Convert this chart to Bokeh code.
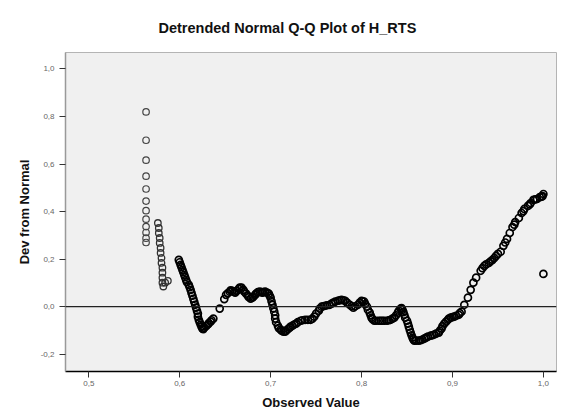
from bokeh.plotting import figure
from bokeh.models import FixedTicker, Span, Range1d
from bokeh.embed import file_html
from bokeh.resources import INLINE

# ---- data: observed value vs deviation from normal ----
obs_col1 = [0.563] * 12
dev_col1 = [0.819, 0.700, 0.616, 0.549, 0.495, 0.444, 0.404, 0.368, 0.337, 0.312, 0.288, 0.270]

obs_col2 = [0.576, 0.577, 0.577, 0.578, 0.578, 0.579, 0.579, 0.580, 0.580, 0.581, 0.581, 0.581,
            0.581, 0.582, 0.584, 0.587]
dev_col2 = [0.352, 0.331, 0.310, 0.289, 0.268, 0.247, 0.226, 0.205, 0.184, 0.164, 0.143, 0.122,
            0.101, 0.085, 0.101, 0.109]

obs_main = [0.599, 0.601, 0.603, 0.605, 0.607, 0.610, 0.612, 0.614, 0.616, 0.618, 0.620, 0.621,
            0.623, 0.625, 0.627, 0.631, 0.634, 0.637, 0.644, 0.649,
            0.651, 0.655, 0.658, 0.661, 0.665, 0.668, 0.671, 0.675, 0.678, 0.681, 0.684, 0.688,
            0.691, 0.694, 0.698, 0.700, 0.702, 0.704, 0.705, 0.708, 0.711, 0.714, 0.717, 0.721,
            0.724, 0.728, 0.733, 0.738, 0.744, 0.748, 0.753, 0.756, 0.760, 0.765, 0.769, 0.774,
            0.778, 0.782, 0.787, 0.791, 0.796, 0.800, 0.803, 0.806, 0.809, 0.811, 0.814, 0.819,
            0.823, 0.828, 0.832, 0.836, 0.840, 0.843, 0.845, 0.847, 0.850, 0.852, 0.854, 0.856,
            0.858, 0.863, 0.867, 0.871, 0.876, 0.880, 0.885, 0.888, 0.891, 0.895, 0.898, 0.902,
            0.907, 0.910, 0.913, 0.917, 0.920, 0.923, 0.926, 0.931, 0.935, 0.940, 0.944, 0.948,
            0.953, 0.956, 0.960, 0.963, 0.966, 0.969, 0.973, 0.976, 0.979, 0.983, 0.986, 0.989,
            0.993, 0.996, 0.999, 1.000, 1.000]
dev_main = [0.197, 0.176, 0.155, 0.134, 0.113, 0.092, 0.071, 0.046, 0.021, -0.004, -0.029, -0.055,
            -0.075, -0.092, -0.088, -0.075, -0.063, -0.050, -0.008, 0.032,
            0.050, 0.063, 0.067, 0.059, 0.075, 0.080, 0.063, 0.046, 0.034, 0.042, 0.055, 0.063,
            0.059, 0.063, 0.055, 0.038, 0.008, -0.021, -0.050, -0.080, -0.096, -0.105, -0.101, -0.088,
            -0.080, -0.071, -0.059, -0.055, -0.055, -0.042, -0.017, 0.000, 0.004, 0.008, 0.017, 0.025,
            0.029, 0.025, 0.008, -0.004, 0.008, 0.025, 0.021, 0.000, -0.025, -0.046, -0.059, -0.059,
            -0.059, -0.059, -0.055, -0.046, -0.025, -0.008, -0.013, -0.034, -0.059, -0.084, -0.109, -0.130,
            -0.143, -0.143, -0.138, -0.130, -0.122, -0.117, -0.109, -0.092, -0.071, -0.055, -0.046, -0.042,
            -0.034, -0.021, 0.008, 0.038, 0.071, 0.101, 0.122, 0.151, 0.172, 0.184, 0.197, 0.214,
            0.231, 0.256, 0.285, 0.310, 0.335, 0.356, 0.373, 0.394, 0.411, 0.424, 0.436, 0.449,
            0.453, 0.461, 0.465, 0.474, 0.138]

# further readings where the points crowd together
obs_more = [0.600, 0.602, 0.604, 0.606, 0.608, 0.611, 0.613, 0.615, 0.617, 0.619, 0.620, 0.622,
            0.624, 0.626, 0.629, 0.632, 0.635,
            0.653, 0.656, 0.660, 0.663, 0.666, 0.670, 0.673, 0.676, 0.680, 0.683, 0.686, 0.690,
            0.692, 0.696, 0.699, 0.701, 0.703, 0.705, 0.706, 0.709, 0.712, 0.716, 0.719, 0.722,
            0.726, 0.730, 0.735, 0.741, 0.746, 0.750, 0.754, 0.758, 0.762, 0.767, 0.771, 0.776,
            0.780, 0.784, 0.789, 0.793, 0.798, 0.801, 0.804, 0.807, 0.810, 0.812, 0.816, 0.821,
            0.825, 0.830, 0.834, 0.838, 0.841, 0.844, 0.846, 0.848, 0.851, 0.853, 0.855, 0.857,
            0.860, 0.865, 0.869, 0.873, 0.878, 0.882, 0.886, 0.889, 0.893, 0.896, 0.900, 0.904,
            0.908, 0.933, 0.937, 0.942, 0.946, 0.950, 0.958, 0.968, 0.978, 0.985, 0.991, 0.998]
dev_more = [0.187, 0.166, 0.145, 0.124, 0.103, 0.082, 0.058, 0.033, 0.008, -0.017, -0.042, -0.065,
            -0.084, -0.094, -0.082, -0.069, -0.057,
            0.057, 0.069, 0.063, 0.067, 0.080, 0.071, 0.055, 0.040, 0.038, 0.050, 0.061, 0.061,
            0.061, 0.059, 0.046, 0.023, -0.006, -0.036, -0.065, -0.090, -0.101, -0.105, -0.094, -0.084,
            -0.075, -0.065, -0.057, -0.055, -0.050, -0.029, -0.008, 0.002, 0.006, 0.013, 0.021, 0.027,
            0.027, 0.017, 0.002, 0.002, 0.017, 0.023, 0.011, -0.013, -0.036, -0.052, -0.059, -0.059,
            -0.059, -0.057, -0.050, -0.036, -0.017, -0.006, -0.023, -0.046, -0.071, -0.097, -0.120, -0.138,
            -0.143, -0.141, -0.134, -0.126, -0.120, -0.113, -0.101, -0.082, -0.063, -0.050, -0.044, -0.038,
            -0.027, 0.162, 0.178, 0.191, 0.205, 0.222, 0.270, 0.345, 0.402, 0.430, 0.451, 0.463]

x_ticks = [0.5, 0.6, 0.7, 0.8, 0.9, 1.0]
x_tick_labels = ["0,5", "0,6", "0,7", "0,8", "0,9", "1,0"]
y_ticks = [1.0, 0.8, 0.6, 0.4, 0.2, 0.0, -0.2]
y_tick_labels = ["1,0", "0,8", "0,6", "0,4", "0,2", "0,0", "-0,2"]

FONT = "Liberation Sans"

p = figure(width=557, height=412, output_backend="svg", toolbar_location=None,
           x_range=Range1d(0.4744, 1.0144), y_range=Range1d(-0.2725, 1.069),
           min_border_left=65, min_border_right=1, min_border_top=52, min_border_bottom=40,
           title="Detrended Normal Q-Q Plot of H_RTS")

p.title.align = "left"
p.title.offset = 93
p.title.vertical_align = "top"
p.title.standoff = 30
p.title.text_font = FONT
p.title.text_font_size = "14.5px"
p.title.text_font_style = "bold"
p.title.text_color = "#111111"

p.background_fill_color = "#f0f0f0"
p.border_fill_color = "white"
p.outline_line_color = "#b4b4b4"
p.outline_line_width = 1
p.grid.visible = False

p.xaxis.ticker = FixedTicker(ticks=x_ticks)
p.xaxis.major_label_overrides = dict(zip(x_ticks, x_tick_labels))
p.yaxis.ticker = FixedTicker(ticks=y_ticks)
p.yaxis.major_label_overrides = dict(zip(y_ticks, y_tick_labels))

for ax in (p.xaxis[0], p.yaxis[0]):
    ax.minor_tick_line_color = None
    ax.major_tick_in = 0
    ax.major_tick_out = 6
    ax.major_tick_line_color = "#333333"
    ax.major_label_text_font = FONT
    ax.major_label_text_font_size = "8px"
    ax.major_label_text_color = "#666666"
    ax.axis_label_text_font = FONT
    ax.axis_label_text_font_size = "13px"
    ax.axis_label_text_font_style = "bold"
    ax.axis_label_text_color = "#111111"

p.xaxis.axis_label = "Observed Value"
p.yaxis.axis_label = "Dev from Normal"
p.xaxis.axis_line_color = "black"
p.xaxis.axis_line_width = 1.5
p.yaxis.axis_line_color = "#999999"
p.yaxis.axis_line_width = 1.5
p.xaxis.major_label_standoff = 3
p.xaxis.axis_label_standoff = 6
p.yaxis.major_label_standoff = 5
p.yaxis.axis_label_standoff = 6

p.add_layout(Span(location=0, dimension="width", line_color="#222222", line_width=1.3))

for xs, ys, col, sz, lw in ((obs_col1, dev_col1, "#444444", 6.5, 1.2),
                            (obs_col2, dev_col2, "#333333", 6.5, 1.3),
                            (obs_main, dev_main, "black", 7, 1.7),
                            (obs_more, dev_more, "black", 7, 1.7)):
    p.scatter(xs, ys, marker="circle", size=sz, fill_color=None, line_color=col, line_width=lw)

open("out.html", "w").write(file_html(p, INLINE))
